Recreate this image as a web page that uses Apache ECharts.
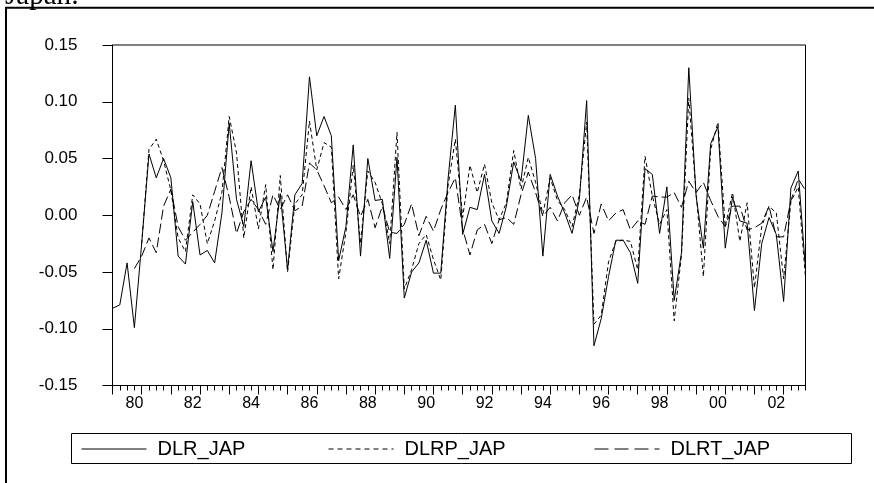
<!DOCTYPE html>
<html>
<head>
<meta charset="utf-8">
<script src="https://cdn.jsdelivr.net/npm/echarts@6/dist/echarts.min.js"></script>
<style>
html,body{margin:0;padding:0;background:#fff;}
#chart{width:874px;height:483px;}
</style>
</head>
<body>
<div id="chart"></div>
<script>
// Quarterly categories 1979Q1 .. 2002Q4
const categories = [];
for (let y = 1979; y <= 2002; y++) { for (let q = 1; q <= 4; q++) categories.push(y + 'Q' + q); }

const xTickLabels = ['80','82','84','86','88','90','92','94','96','98','00','02'];
const yTicks = { min: -0.15, max: 0.15, interval: 0.05 };
const seriesNames = ['DLR_JAP', 'DLRP_JAP', 'DLRT_JAP'];

const DLR_JAP = [
 -0.082,-0.079,-0.042,-0.099,-0.025, 0.054, 0.033, 0.050, 0.033,-0.036,
 -0.043, 0.012,-0.035,-0.031,-0.042, 0.002, 0.081, 0.014,-0.010, 0.048,
  0.003, 0.016,-0.032, 0.019,-0.048, 0.018, 0.028, 0.122, 0.070, 0.087,
  0.070,-0.040,-0.010, 0.062,-0.036, 0.050, 0.013, 0.014,-0.038, 0.051,
 -0.073,-0.050,-0.042,-0.022,-0.051,-0.051, 0.032, 0.097,-0.017, 0.007,
  0.005, 0.036,-0.005,-0.016, 0.008, 0.047, 0.030, 0.088, 0.050,-0.036,
  0.036, 0.017, 0.002,-0.016, 0.014, 0.101,-0.115,-0.091,-0.054,-0.022,
 -0.022,-0.033,-0.060, 0.041, 0.036,-0.016, 0.025,-0.075,-0.033, 0.130,
  0.017,-0.029, 0.063, 0.078,-0.029, 0.016,-0.005,-0.007,-0.084,-0.025,
 -0.002,-0.017,-0.076, 0.024, 0.039,-0.048
];
const DLRP_JAP = [
  null,  null,  null,  null,-0.025, 0.058, 0.067, 0.048, 0.022,-0.020,
 -0.032, 0.018, 0.010,-0.025,-0.005, 0.020, 0.087, 0.055,-0.020, 0.025,
 -0.012, 0.027,-0.048, 0.035,-0.050, 0.010, 0.018, 0.083, 0.040, 0.064,
  0.060,-0.056,-0.015, 0.044,-0.025, 0.039, 0.029, 0.010,-0.025, 0.073,
 -0.065,-0.048,-0.025,-0.017,-0.039,-0.057, 0.026, 0.067,-0.002, 0.044,
  0.020, 0.045, 0.011,-0.004, 0.011, 0.057, 0.023, 0.051, 0.029, 0.001,
  0.033, 0.013, 0.005,-0.010, 0.018, 0.082,-0.096,-0.088,-0.041,-0.023,
 -0.022,-0.023,-0.048, 0.052, 0.017,-0.008, 0.005,-0.093,-0.035, 0.103,
  0.020,-0.054, 0.058, 0.082,-0.010, 0.020,-0.023, 0.011,-0.064,-0.010,
  0.008, 0.002,-0.056, 0.012, 0.025,-0.055
];
const DLRT_JAP = [
  null,  null,  null,-0.047,-0.036,-0.020,-0.033, 0.008, 0.023,-0.010,
 -0.022,-0.015,-0.008, 0.000, 0.021, 0.042, 0.016,-0.016, 0.003, 0.014,
  0.005,-0.008, 0.018, 0.005, 0.018, 0.004, 0.008, 0.046, 0.040, 0.026,
  0.011, 0.016, 0.005, 0.018,-0.001, 0.014,-0.011, 0.008,-0.015,-0.016,
 -0.008, 0.010,-0.018,-0.001,-0.014, 0.005, 0.020, 0.033,-0.012,-0.035,
 -0.013,-0.008,-0.025,-0.004,-0.002,-0.008, 0.018, 0.038, 0.020,-0.001,
  0.007,-0.005, 0.011, 0.018, 0.000, 0.016,-0.016, 0.010,-0.005, 0.002,
  0.005,-0.013,-0.005,-0.008, 0.017, 0.016, 0.016, 0.020, 0.007, 0.030,
  0.020, 0.029, 0.013,-0.001,-0.010, 0.008, 0.008,-0.013,-0.011,-0.007,
  0.008,-0.019,-0.019, 0.013, 0.032, 0.022
];

const FONT = '"Liberation Sans", Arial, sans-serif';
const chart = echarts.init(document.getElementById('chart'), null, { renderer: 'canvas' });

function legendItem(name, left, dash) {
  return {
    data: [name], left: left, top: 439, padding: 0,
    itemWidth: 65, itemHeight: 14, selectedMode: false,
    itemStyle: { opacity: 0 },
    lineStyle: { type: dash, width: 1, color: '#000' },
    textStyle: { fontSize: 20, fontFamily: FONT, color: '#000', padding: [0, 0, 0, 6] }
  };
}

chart.setOption({
  animation: false,
  backgroundColor: '#fff',
  graphic: [
    { type: 'rect', silent: true, shape: { x: 6, y: 7.7, width: 1000, height: 700 },
      style: { fill: 'none', stroke: '#000', lineWidth: 2 } },
    { type: 'text', silent: true, x: 5, y: -4,
      style: { text: 'Japan:', font: '29px "Liberation Serif", "Times New Roman", serif', fill: '#000', verticalAlign: 'middle' } },
    { type: 'rect', silent: true, shape: { x: 71.5, y: 433.5, width: 780, height: 30 },
      style: { fill: 'none', stroke: '#000', lineWidth: 1 } }
  ],
  legend: [
    legendItem(seriesNames[0], 81, 'solid'),
    legendItem(seriesNames[1], 328, [5, 4]),
    legendItem(seriesNames[2], 594, [14, 6])
  ],
  grid: { left: 112.5, top: 45, width: 693, height: 340.5, show: true, borderColor: '#000', borderWidth: 1 },
  xAxis: [
    {
      type: 'category', data: categories, boundaryGap: false,
      axisLine: { show: true, onZero: false, lineStyle: { color: '#000', width: 1 } },
      axisTick: { show: true, interval: 0, length: 5, lineStyle: { color: '#000' } },
      axisLabel: {
        interval: function (i) { return i % 8 === 3; },
        formatter: function (v, i) { return xTickLabels[(i - 3) / 8]; },
        fontSize: 16, fontFamily: FONT, color: '#000', margin: 10
      },
      splitLine: { show: false }
    },
    {
      type: 'category', data: categories, boundaryGap: false, position: 'bottom',
      axisLine: { show: false, onZero: false },
      axisTick: { show: true, interval: function (i) { return i % 4 === 0; }, length: 9, lineStyle: { color: '#000' } },
      axisLabel: { show: false },
      splitLine: { show: false }
    }
  ],
  yAxis: {
    type: 'value', min: yTicks.min, max: yTicks.max, interval: yTicks.interval,
    axisLine: { show: true, lineStyle: { color: '#000', width: 1 } },
    axisTick: { show: true, length: 10, lineStyle: { color: '#000' } },
    axisLabel: { formatter: function (v) { return v.toFixed(2); }, fontSize: 17, fontFamily: FONT, color: '#000', margin: 35 },
    splitLine: { show: false }
  },
  series: [
    { name: seriesNames[0], type: 'line', data: DLR_JAP, symbol: 'none', xAxisIndex: 0,
      itemStyle: { color: '#000' }, lineStyle: { color: '#000', width: 1, type: 'solid' } },
    { name: seriesNames[1], type: 'line', data: DLRP_JAP, symbol: 'none', xAxisIndex: 0,
      itemStyle: { color: '#000' }, lineStyle: { color: '#000', width: 1, type: [4, 3] } },
    { name: seriesNames[2], type: 'line', data: DLRT_JAP, symbol: 'none', xAxisIndex: 0,
      itemStyle: { color: '#000' }, lineStyle: { color: '#000', width: 1, type: [10, 4] } }
  ]
});
</script>
</body>
</html>
